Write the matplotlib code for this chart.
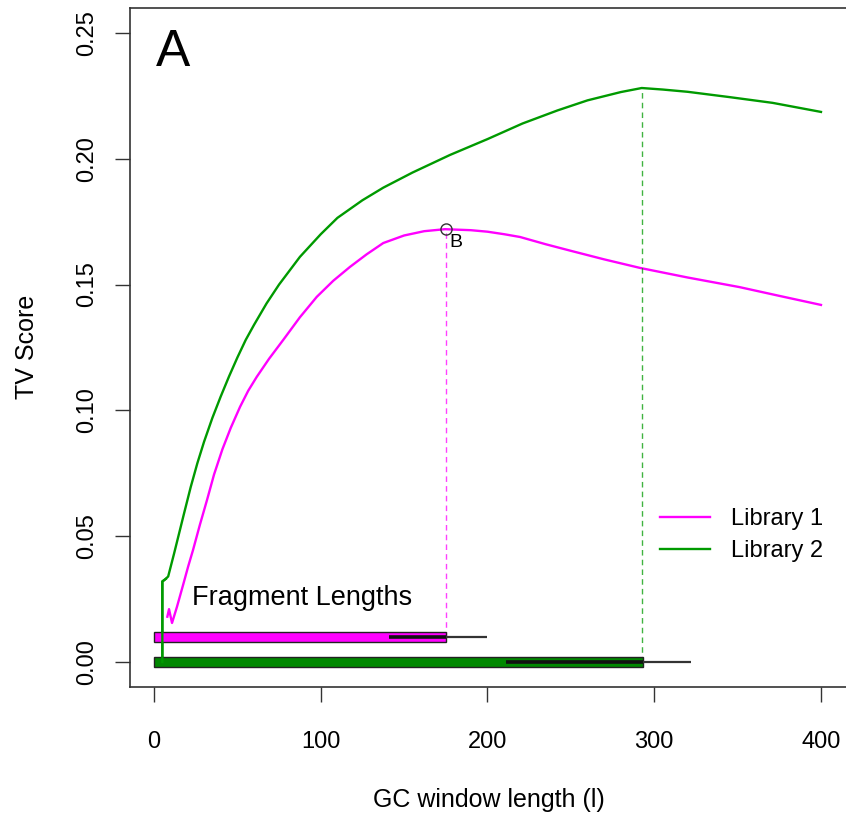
import matplotlib
matplotlib.use("Agg")
from matplotlib import pyplot as plt

# TV score vs GC window length
window_lib1 = [8, 9, 10.8, 13.8, 17.6, 20.5, 23.4, 27.5, 31.8, 36, 41, 46, 51.6, 56.5,
               61.6, 69, 77.5, 87.5, 97.6, 107.5, 117.5, 127.5, 137.5, 150, 162, 174.5,
               190, 200, 210, 219.5, 235, 250, 270, 291.5, 320, 351, 375, 400]
tv_lib1 = [0.018, 0.021, 0.0155, 0.022, 0.031, 0.038, 0.0445, 0.0545, 0.0644, 0.0745,
           0.0845, 0.093, 0.1014, 0.1078, 0.1133, 0.1205, 0.128, 0.137, 0.1451, 0.1515,
           0.157, 0.162, 0.1665, 0.1695, 0.1712, 0.172, 0.1716, 0.171, 0.170, 0.1689,
           0.166, 0.1634, 0.160, 0.1566, 0.1528, 0.149, 0.1455, 0.1419]
window_lib2 = [5, 5, 7, 8.5, 12, 15, 18, 22, 26, 30, 35, 40, 45, 50, 55, 60, 67.5, 75,
               87.5, 100, 110, 125, 137.5, 155, 177.5, 200, 221, 242, 260, 280, 292.5,
               305, 320, 345, 371, 400]
tv_lib2 = [0.0, 0.032, 0.033, 0.034, 0.043, 0.051, 0.059, 0.0695, 0.079, 0.0875, 0.097,
           0.1055, 0.1135, 0.121, 0.128, 0.134, 0.1425, 0.150, 0.161, 0.170, 0.1765,
           0.1835, 0.1885, 0.1945, 0.2015, 0.2078, 0.2140, 0.2192, 0.2232, 0.2265,
           0.2281, 0.2275, 0.2266, 0.2245, 0.2222, 0.2186]

libraries = ["Library 1", "Library 2"]
line_colors = ["#FF00FF", "#009A00"]
bar_colors = ["#FF00FF", "#008800"]

# fragment length summary bars
frag_level = [0.01, 0.0]
frag_bar_end = [175, 293]
frag_inner_start = [141, 211]
frag_max = [200, 322]

# optimum window for each library
peak_x = [175, 292.5]
peak_y = [0.172, 0.2281]

x_ticks = [0, 100, 200, 300, 400]
y_ticks = [0.00, 0.05, 0.10, 0.15, 0.20, 0.25]

plt.rcParams['font.family'] = ['Liberation Sans', 'DejaVu Sans']

fig = plt.figure(figsize=(8.46, 8.15), dpi=100)
ax = fig.add_axes([130 / 846, 128 / 815, 718 / 846, 679 / 815])

ax.plot(window_lib1, tv_lib1, color=line_colors[0], lw=1.7, label=libraries[0])
ax.plot(window_lib2, tv_lib2, color=line_colors[1], lw=1.7, label=libraries[1])

for i in range(2):
    ax.plot([peak_x[i], peak_x[i]], [frag_level[i], peak_y[i]], color=line_colors[i],
            lw=1, alpha=0.75, dashes=(4, 3))
    ax.barh(frag_level[i], frag_bar_end[i], left=0, height=0.004, color=bar_colors[i],
            edgecolor="#222222", linewidth=1, zorder=3)
    ax.plot([frag_inner_start[i], frag_bar_end[i]], [frag_level[i], frag_level[i]],
            color="#111111", lw=2.6, zorder=4, solid_capstyle="butt")
    ax.plot([frag_bar_end[i], frag_max[i]], [frag_level[i], frag_level[i]],
            color="#333333", lw=1.6, zorder=4, solid_capstyle="butt")

# redraw the green start so it sits over the bars
ax.plot(window_lib2[:3], tv_lib2[:3], color=line_colors[1], lw=1.7, zorder=5)

ax.plot(peak_x[0], peak_y[0], "o", mfc="none", mec="#333333", ms=8, mew=1, zorder=6)
ax.text(181, 0.1669, "B", fontsize=14, ha="center", va="center")
ax.text(11.4, 0.2424, "A", fontsize=37, ha="center", va="center")
ax.text(22.8, 0.0254, "Fragment Lengths", fontsize=19.5, ha="left", va="center")

ax.set_xlim(-14.4, 416.2)
ax.set_ylim(-0.00994, 0.2599)
ax.set_xticks(x_ticks)
ax.set_xticklabels([str(t) for t in x_ticks])
ax.set_yticks(y_ticks)
ax.set_yticklabels([f"{t:.2f}" for t in y_ticks], rotation=90, va="center")
ax.tick_params(axis="both", length=11, width=1, color="#333333", labelsize=17,
               direction="out")
ax.tick_params(axis="x", pad=21)
ax.tick_params(axis="y", pad=12)
for s in ax.spines.values():
    s.set_color("#333333")
    s.set_linewidth(1.2)

fig.text(489 / 846, 1 - 800 / 815, "GC window length (l)", fontsize=18,
         ha="center", va="center")
fig.text(27 / 846, 1 - 347 / 815, "TV Score", fontsize=18, rotation=90,
         ha="center", va="center")

ax.legend(loc="upper left", bbox_to_anchor=(660 / 846, 1 - 508 / 815),
          bbox_transform=fig.transFigure, frameon=False, fontsize=17,
          handlelength=2.1, handletextpad=0.9, labelspacing=0.42,
          borderpad=0, borderaxespad=0)

plt.savefig("out.png")
plt.close()
